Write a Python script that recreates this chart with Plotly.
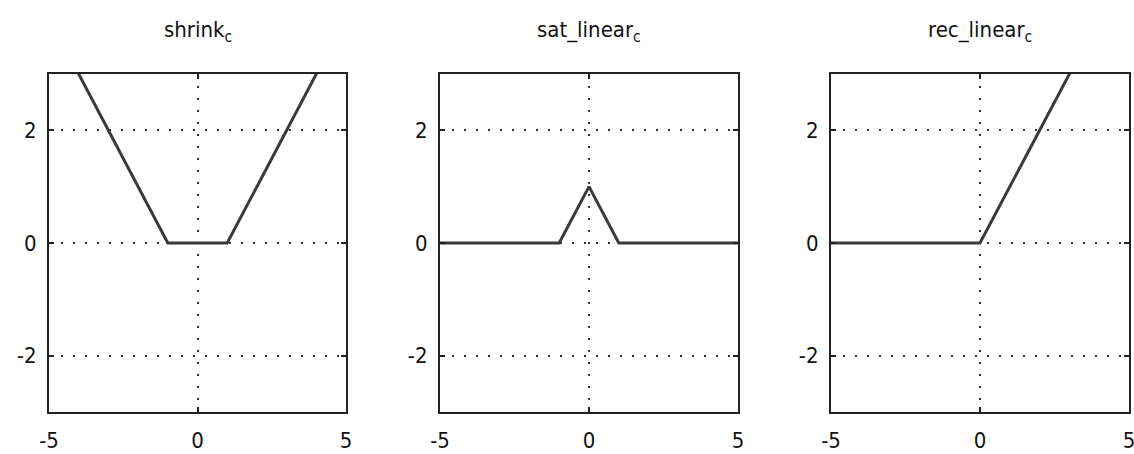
import plotly.graph_objects as go

# Data
titles = ["shrink<sub>c</sub>", "sat_linear<sub>c</sub>", "rec_linear<sub>c</sub>"]
shrink_x = [-5, -1, 1, 5]
shrink_y = [4, 0, 0, 4]
sat_x = [-5, -1, 0, 1, 5]
sat_y = [0, 0, 1, 0, 0]
rec_x = [-5, 0, 5]
rec_y = [0, 0, 5]
x_ticks = [-5, 0, 5]
x_tick_labels = ["-5", "0", "5"]
y_ticks = [-2, 0, 2]
y_tick_labels = ["-2", "0", "2"]

W, H = 1134, 454
panels_px = [(49, 346), (440, 738), (831, 1129)]
top_px, bot_px = 74, 412

FONT = "DejaVu Sans Condensed, Liberation Sans Narrow, sans-serif"
LINE_COLOR = "#3a3a3a"
AX_COLOR = "#222222"

fig = go.Figure()
series = [(shrink_x, shrink_y), (sat_x, sat_y), (rec_x, rec_y)]
for i, (xs, ys) in enumerate(series):
    k = "" if i == 0 else str(i + 1)
    fig.add_trace(go.Scatter(x=xs, y=ys, mode="lines",
                             line=dict(color=LINE_COLOR, width=3),
                             xaxis="x" + k, yaxis="y" + k, showlegend=False,
                             hoverinfo="skip"))
    x0, x1 = panels_px[i]
    common = dict(showline=True, linecolor=AX_COLOR, linewidth=2, mirror="ticks",
                  ticks="inside", ticklen=5, tickcolor=AX_COLOR, tickwidth=1.5,
                  showgrid=True, gridcolor="#333333", gridwidth=1.5,
                  griddash="2px,10px", zeroline=False, automargin=False,
                  ticklabeloverflow="allow",
                  tickfont=dict(family=FONT, size=22, color="#111111"))
    fig.layout["xaxis" + k] = dict(domain=[x0 / W, x1 / W], range=[-5, 5],
                                   tickvals=x_ticks, ticktext=x_tick_labels,
                                   anchor="y" + k, ticklabelstandoff=8, **common)
    fig.layout["yaxis" + k] = dict(domain=[1 - bot_px / H, 1 - top_px / H], range=[-3, 3],
                                   tickvals=y_ticks, ticktext=y_tick_labels,
                                   anchor="x" + k, ticklabelstandoff=6, **common)
    fig.add_annotation(text=titles[i], x=(x0 + x1) / 2 / W, y=1 - 32 / H,
                       xref="paper", yref="paper", showarrow=False,
                       xanchor="center", yanchor="middle",
                       font=dict(family=FONT, size=22, color="#111111"))

fig.update_layout(width=W, height=H, margin=dict(l=0, r=0, t=0, b=0),
                  paper_bgcolor="white", plot_bgcolor="white")
fig.write_html("out.html")
